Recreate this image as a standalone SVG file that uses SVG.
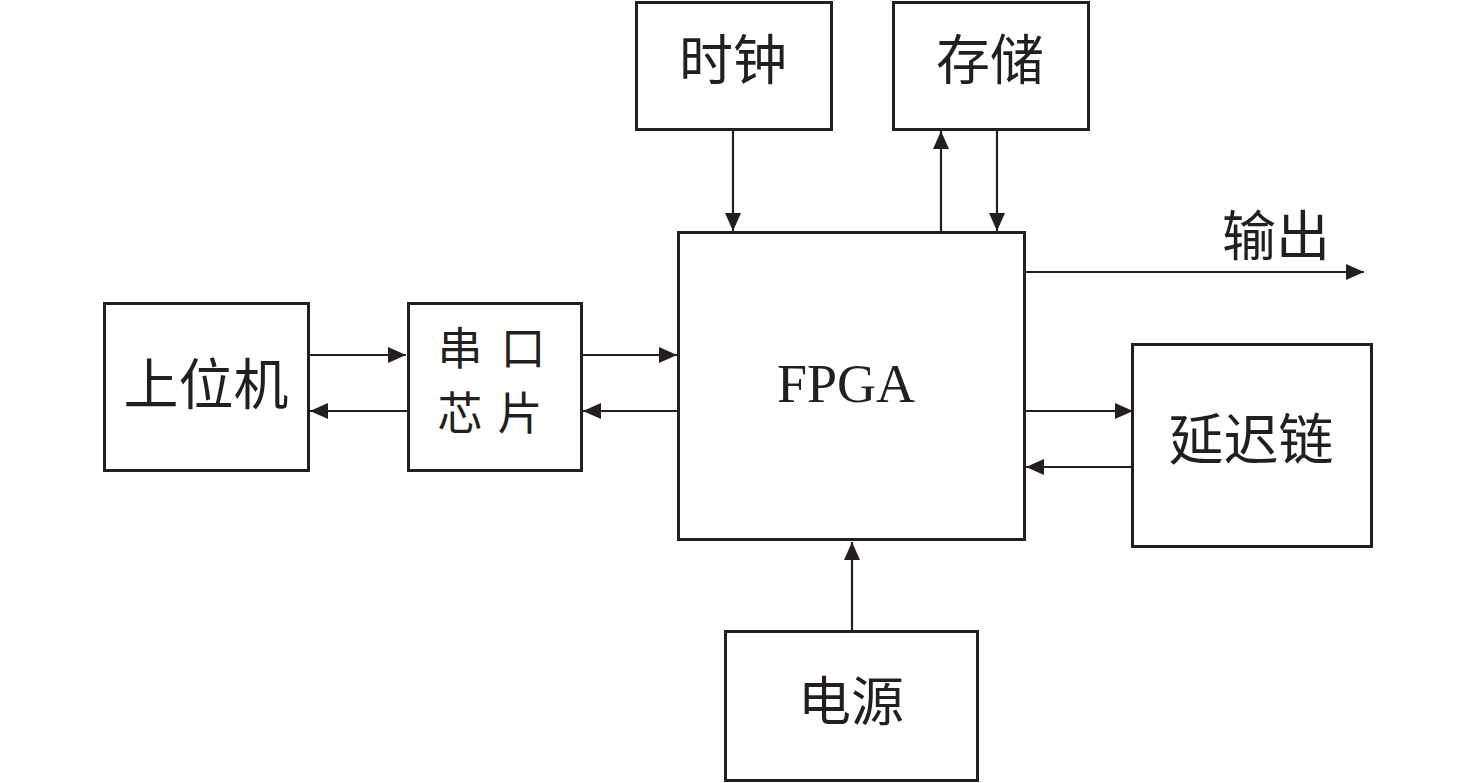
<svg xmlns="http://www.w3.org/2000/svg" width="1476" height="783" viewBox="0 0 1476 783">
<defs>
<marker id="ah" viewBox="0 0 18 16" refX="18" refY="8" markerWidth="18" markerHeight="16" markerUnits="userSpaceOnUse" orient="auto">
<path d="M0,0 L18,8 L0,16 Z" fill="#231f20"/>
</marker>
<style>
.box{fill:#fff;stroke:#231f20;stroke-width:3}
.c{stroke:#231f20;stroke-width:2.2;fill:none;marker-end:url(#ah)}
.t{font-family:"Liberation Serif","Noto Sans CJK SC",serif;fill:#231f20;text-anchor:middle;dominant-baseline:central}
</style>
</defs>
<rect width="1476" height="783" fill="#fff"/>
<g id="host"><rect class="box" x="104.5" y="303.5" width="204" height="167"/><text class="t" x="206" y="385" font-size="55">上位机</text></g>
<g id="uart"><rect class="box" x="408.5" y="303.5" width="173" height="167"/>
<text class="t" x="460" y="350" font-size="45">串</text><text class="t" x="523" y="350" font-size="45">口</text>
<text class="t" x="460" y="415" font-size="45">芯</text><text class="t" x="520" y="415" font-size="45">片</text></g>
<g id="fpga"><rect class="box" x="678.5" y="232.5" width="346" height="307"/><text class="t" x="846" y="384" font-size="54">FPGA</text></g>
<g id="clock"><rect class="box" x="636.5" y="2.5" width="195" height="127"/><text class="t" x="733" y="62" font-size="54">时钟</text></g>
<g id="storage"><rect class="box" x="893.5" y="2.5" width="195" height="127"/><text class="t" x="990" y="62" font-size="54">存储</text></g>
<g id="delay"><rect class="box" x="1132.5" y="344.5" width="239" height="202"/><text class="t" x="1251" y="440" font-size="55">延迟链</text></g>
<g id="power"><rect class="box" x="725.5" y="631.5" width="252" height="149"/><text class="t" x="851" y="703" font-size="53">电源</text></g>
<g id="output-label"><text class="t" x="1276" y="238" font-size="54">输出</text></g>
<g id="connectors">
<line class="c" x1="309" y1="355" x2="406" y2="355"/>
<line class="c" x1="407" y1="411" x2="310" y2="411"/>
<line class="c" x1="582" y1="355" x2="677" y2="355"/>
<line class="c" x1="677" y1="411" x2="583" y2="411"/>
<line class="c" x1="733" y1="130" x2="733" y2="231"/>
<line class="c" x1="941" y1="231" x2="941" y2="131"/>
<line class="c" x1="997" y1="130" x2="997" y2="231"/>
<line class="c" x1="1025" y1="272" x2="1364" y2="272"/>
<line class="c" x1="1025" y1="411" x2="1133" y2="411"/>
<line class="c" x1="1131" y1="467" x2="1026" y2="467"/>
<line class="c" x1="852" y1="630" x2="852" y2="542"/>
</g>
</svg>
